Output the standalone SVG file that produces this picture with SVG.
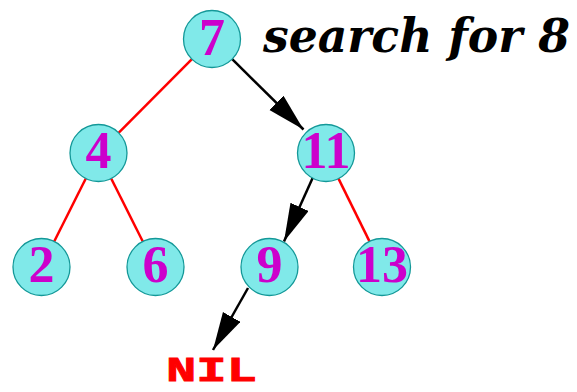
<svg xmlns="http://www.w3.org/2000/svg" width="577" height="392" viewBox="0 0 577 392">
<style>
.node circle{fill:#80e9e9;stroke:#139898;stroke-width:1.3}
.node text{font-family:"Liberation Serif",serif;font-weight:bold;font-size:52px;fill:#cc00cc;text-anchor:middle}
.red{stroke:#ff0000;stroke-width:2.5;fill:none}
.blk{stroke:#000;stroke-width:2.5;fill:none;marker-end:url(#ah)}
</style>
<defs>
<marker id="ah" markerUnits="userSpaceOnUse" markerWidth="40" markerHeight="22" refX="38" refY="10" orient="auto" viewBox="0 0 40 22">
<path d="M0,0 L38,10 L0,20 z" fill="#000"/>
</marker>
</defs>
<rect width="577" height="392" fill="#fff"/>
<g id="connectors">
<line class="red" x1="191.9" y1="59.2" x2="118.6" y2="132.8"/>
<line class="blk" x1="232.2" y1="59.2" x2="303.5" y2="129.5"/>
<line class="red" x1="85.8" y1="178.5" x2="54.2" y2="241.5"/>
<line class="red" x1="111.2" y1="178.5" x2="142.8" y2="241.5"/>
<line class="blk" x1="313.3" y1="176.5" x2="284" y2="241.5"/>
<line class="red" x1="338.5" y1="178.6" x2="369.5" y2="241.4"/>
<line class="blk" x1="248" y1="288" x2="213" y2="350"/>
</g>
<g id="n7" class="node"><circle cx="212" cy="39" r="28.5"/><text x="212" y="55">7</text></g>
<g id="n4" class="node"><circle cx="98.5" cy="153" r="28.5"/><text x="98.5" y="168">4</text></g>
<g id="n11" class="node"><circle cx="326" cy="153" r="28.5"/><text x="326" y="168">11</text></g>
<g id="n2" class="node"><circle cx="41.5" cy="267" r="28.5"/><text x="41.5" y="282">2</text></g>
<g id="n6" class="node"><circle cx="155.5" cy="267" r="28.5"/><text x="155.5" y="282">6</text></g>
<g id="n9" class="node"><circle cx="269.5" cy="267" r="28.5"/><text x="269.5" y="282">9</text></g>
<g id="n13" class="node"><circle cx="382" cy="267" r="28.5"/><text x="382" y="282">13</text></g>
<g id="nil"><text x="166" y="381" font-family="'Liberation Mono',monospace" font-weight="bold" font-size="35" fill="#ff0000" stroke="#ff0000" stroke-width="0.8" textLength="91" lengthAdjust="spacingAndGlyphs">NIL</text></g>
<g id="title"><text x="263" y="52" font-family="'DejaVu Serif',serif" font-weight="bold" font-style="italic" font-size="46" fill="#000" textLength="307" lengthAdjust="spacingAndGlyphs">search for 8</text></g>
</svg>
